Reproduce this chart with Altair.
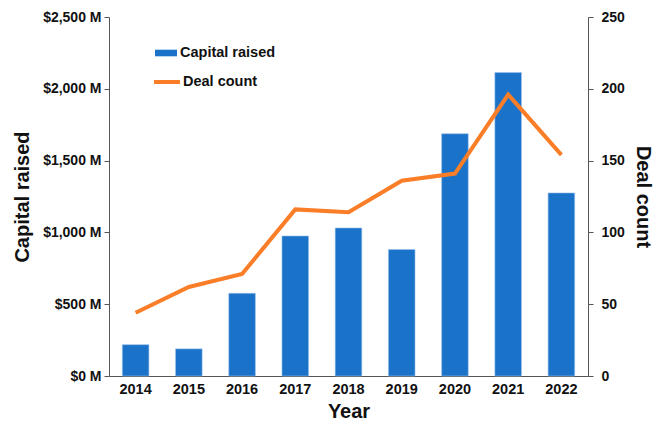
import altair as alt
import pandas as pd

years = ["2014", "2015", "2016", "2017", "2018", "2019", "2020", "2021", "2022"]
capital_raised = [218, 189, 576, 975, 1031, 881, 1687, 2113, 1275]
deal_count = [44, 62, 71, 116, 114, 136, 141, 196, 154]
cap_ticks = [0, 500, 1000, 1500, 2000, 2500]
deal_ticks = [0, 50, 100, 150, 200, 250]

df = pd.DataFrame({
    "year": years,
    "capital": capital_raised,
    "deals": deal_count,
    "bar_s": "Capital raised",
    "line_s": "Deal count",
})

FONT = "Liberation Sans"
BLUE = "#1a72c9"
ORANGE = "#fa7d27"

x = alt.X("year:N", sort=years,
          scale=alt.Scale(paddingInner=0.5, paddingOuter=0.25),
          axis=alt.Axis(title="Year", labelAngle=0, ticks=False, labelPadding=6,
                        titlePadding=6, domainColor="#555", labelFontSize=14.5,
                        titleFontSize=20))

bars = alt.Chart(df).mark_bar(stroke="#9cc3ec", strokeWidth=0.6).encode(
    x=x,
    y=alt.Y("capital:Q", scale=alt.Scale(domain=[0, 2500]),
            axis=alt.Axis(title="Capital raised", values=cap_ticks,
                          labelExpr="'$' + format(datum.value, ',') + ' M'",
                          grid=False, tickSize=5, labelPadding=3, titlePadding=10,
                          domainColor="#555", tickColor="#555",
                          labelFontSize=14, titleFontSize=20)),
    fill=alt.Fill("bar_s:N", scale=alt.Scale(range=[BLUE]),
                  legend=alt.Legend(title=None, orient="none", legendX=46, legendY=25,
                                    symbolType="M-1,-0.3H1V0.3H-1Z", symbolSize=484,
                                    symbolStrokeWidth=0, symbolOpacity=1,
                                    labelFontSize=14.5, labelFontWeight="bold",
                                    labelOffset=3)),
)

line = alt.Chart(df).mark_line(strokeWidth=4).encode(
    x=x,
    y=alt.Y("deals:Q", scale=alt.Scale(domain=[0, 250]),
            axis=alt.Axis(title="Deal count", orient="right", values=deal_ticks,
                          grid=False, tickSize=5, labelPadding=8, titlePadding=8,
                          domainColor="#555", tickColor="#555", titleAngle=90,
                          labelFontSize=14, titleFontSize=20)),
    stroke=alt.Stroke("line_s:N", scale=alt.Scale(range=[ORANGE]),
                      legend=alt.Legend(title=None, orient="none", legendX=43, legendY=50,
                                        symbolType="stroke", symbolSize=676,
                                        symbolStrokeWidth=4,
                                        labelFontSize=14.5, labelFontWeight="bold",
                                        labelOffset=1)),
)

chart = alt.layer(bars, line).resolve_scale(y="independent").properties(
    width=479, height=359,
    autosize=alt.AutoSizeParams(type="none"),
    padding={"left": 101, "top": 9, "right": 70, "bottom": 46},
).configure_view(stroke=None).configure_axis(
    labelFont=FONT, titleFont=FONT, labelFontWeight="bold", titleFontWeight="bold",
    labelColor="#111", titleColor="#111",
).configure_legend(labelFont=FONT, labelColor="#111")

chart.save("out.html", embed_options={"renderer": "svg", "actions": False})
